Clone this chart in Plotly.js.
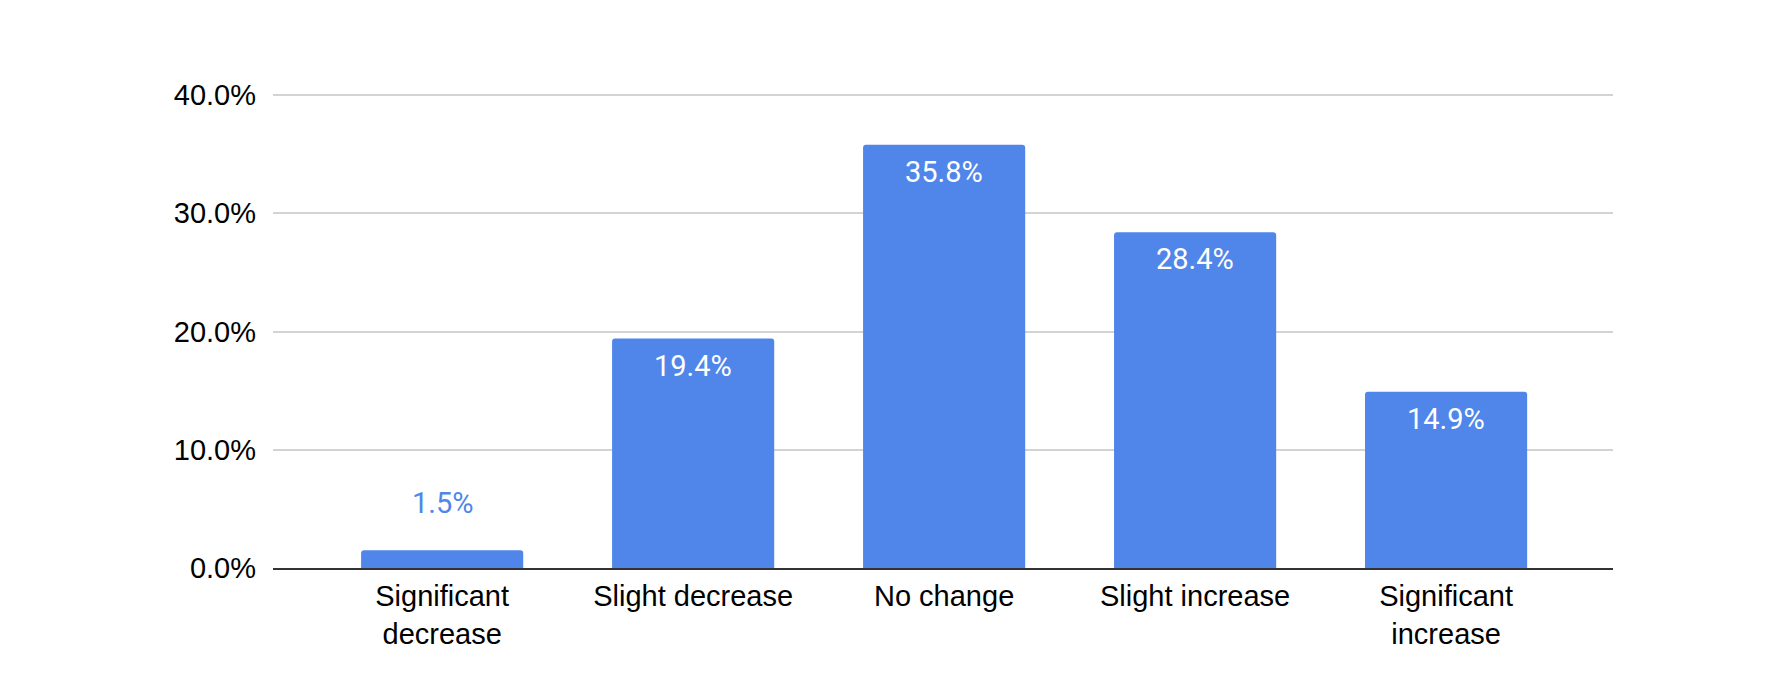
<!DOCTYPE html>
<html>
<head>
<meta charset="utf-8">
<script src="https://cdn.plot.ly/plotly-3.0.1.min.js"></script>
<style>html,body{margin:0;padding:0;background:#fff;}#chart{width:1786px;height:692px;}</style>
</head>
<body>
<div id="chart"></div>
<script>
const categories = ["Significant<br>decrease", "Slight decrease", "No change", "Slight increase", "Significant<br>increase"];
const values = [1.5, 19.4, 35.8, 28.4, 14.9];
const valueLabels = ["1.5%", "19.4%", "35.8%", "28.4%", "14.9%"];
const labelInside = [false, true, true, true, true];
const yTickVals = [0, 10, 20, 30, 40];
const yTickText = ["0.0%", "10.0%", "20.0%", "30.0%", "40.0%"];

const barColor = "#5086ea";

const annotations = categories.map((c, i) => ({
  x: c, y: values[i], xref: "x", yref: "y",
  text: valueLabels[i], showarrow: false,
  yanchor: labelInside[i] ? "top" : "bottom",
  yshift: labelInside[i] ? -8 : 28,
  font: {family: "Roboto, 'Open Sans', sans-serif", size: 29, color: labelInside[i] ? "#ffffff" : barColor}
}));

const trace = {
  type: "bar", x: categories, y: values,
  marker: {color: barColor, cornerradius: 3},
  width: 0.646, hoverinfo: "none"
};

const layout = {
  width: 1786, height: 692,
  margin: {l: 273, r: 173, t: 94, b: 124},
  paper_bgcolor: "#fff", plot_bgcolor: "#fff",
  showlegend: false, bargap: 0.354,
  font: {family: "'Liberation Sans', Arial, sans-serif", size: 29, color: "#000"},
  xaxis: {
    type: "category", range: [-0.674, 4.665],
    showgrid: false, zeroline: false,
    showline: true, linecolor: "#333", linewidth: 2,
    ticks: "", ticklabelstandoff: 1,
    tickfont: {family: "'Liberation Sans', Arial, sans-serif", size: 29, color: "#000"}
  },
  yaxis: {
    range: [0, 40.085], tickvals: yTickVals, ticktext: yTickText,
    showgrid: true, gridcolor: "#d3d3d3", gridwidth: 2,
    zeroline: false, showline: false, ticks: "",
    ticklabelstandoff: 16,
    tickfont: {family: "'Liberation Sans', Arial, sans-serif", size: 29, color: "#000"}
  },
  annotations: annotations
};

Plotly.newPlot("chart", [trace], layout, {displayModeBar: false, staticPlot: true});
</script>
</body>
</html>
